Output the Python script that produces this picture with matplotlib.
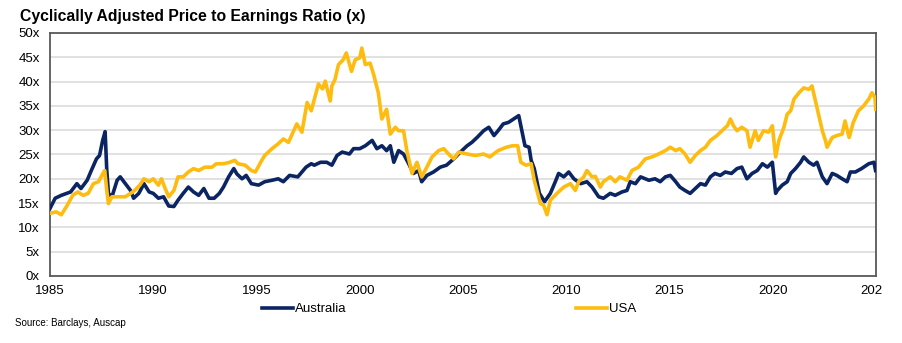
import matplotlib.pyplot as plt

plt.rcParams['font.family'] = ['Liberation Sans', 'DejaVu Sans']

# Australia CAPE
aus_dates = [
    1985.0, 1985.25, 1985.55, 1986.0, 1986.3, 1986.5, 1986.8, 1987.0, 1987.25, 1987.4,
    1987.55, 1987.67, 1987.75, 1987.83, 1988.0, 1988.25, 1988.4, 1988.65, 1988.9, 1989.05,
    1989.3, 1989.55, 1989.8,
    1990.0, 1990.25, 1990.5, 1990.75, 1991.0, 1991.2, 1991.45, 1991.7, 1991.95, 1992.2,
    1992.45, 1992.7, 1992.95, 1993.2, 1993.4, 1993.65, 1993.9, 1994.05, 1994.3, 1994.5,
    1994.75,
    1995.1, 1995.4, 1995.75, 1996.05, 1996.3, 1996.6, 1997.0, 1997.4, 1997.65, 1997.8,
    1998.1, 1998.4, 1998.65, 1998.9, 1999.15, 1999.5, 1999.7,
    2000.0, 2000.27, 2000.6, 2000.83, 2001.07, 2001.3, 2001.48, 2001.65, 2001.88, 2002.12,
    2002.37, 2002.6, 2002.85, 2003.0, 2003.25, 2003.57, 2003.9, 2004.2, 2004.55, 2004.87,
    2005.2, 2005.43, 2005.68, 2006.0, 2006.25, 2006.5, 2006.7, 2006.95, 2007.2, 2007.45,
    2007.7, 2007.85, 2008.0, 2008.2, 2008.3, 2008.45, 2008.7, 2008.95, 2009.23, 2009.47,
    2009.63, 2009.88,
    2010.12, 2010.37, 2010.7, 2011.0, 2011.25, 2011.57, 2011.8, 2012.13, 2012.37, 2012.7,
    2012.94, 2013.1, 2013.35, 2013.6, 2014.0, 2014.3, 2014.55, 2014.8,
    2015.04, 2015.3, 2015.5, 2015.75, 2016.0, 2016.25, 2016.5, 2016.74, 2016.98, 2017.2,
    2017.46, 2017.7, 2018.0, 2018.27, 2018.5, 2018.75, 2019.0, 2019.25, 2019.5, 2019.74,
    2019.98,
    2020.14, 2020.22, 2020.46, 2020.7, 2020.87, 2021.1, 2021.35, 2021.5, 2021.75, 2021.98,
    2022.14, 2022.4, 2022.63, 2022.88, 2023.1, 2023.36, 2023.6, 2023.76, 2024.0, 2024.3,
    2024.65, 2024.9, 2024.98,
]
aus_vals = [
    13.9, 16.0, 16.6, 17.3, 19.0, 18.0, 19.7, 21.7, 24.1, 24.8,
    27.9, 29.7, 21.7, 17.0, 16.3, 19.7, 20.4, 19.0, 17.6, 16.0,
    17.0, 19.0, 17.3,
    17.0, 16.0, 16.3, 14.4, 14.3, 15.6, 17.0, 18.3, 17.3, 16.6,
    18.0, 16.0, 16.0, 17.0, 18.3, 20.4, 22.1, 21.0, 20.0, 20.7,
    19.0,
    18.7, 19.4, 19.7, 20.0, 19.4, 20.7, 20.4, 22.4, 23.1, 22.8,
    23.4, 23.4, 22.8, 24.8, 25.5, 25.1, 26.2,
    26.2, 26.8, 27.9, 26.2, 26.8, 25.8, 26.8, 23.4, 25.8, 25.1,
    23.1, 21.1, 21.7, 19.4, 20.7, 21.4, 22.4, 22.8, 24.1, 25.5,
    26.8, 27.5, 28.5, 29.9, 30.6, 28.9, 29.9, 31.3, 31.6, 32.3,
    33.0, 29.9, 26.8, 26.5, 23.8, 22.1, 17.0, 15.3, 17.0, 19.4,
    21.1, 20.4,
    21.4, 20.0, 19.0, 19.4, 18.3, 16.3, 16.0, 17.0, 16.6, 17.3,
    17.6, 19.4, 19.0, 20.4, 19.7, 20.0, 19.4, 20.4,
    20.7, 19.4, 18.3, 17.6, 17.0, 18.0, 19.0, 18.7, 20.4, 21.1,
    20.7, 21.4, 21.1, 22.1, 22.4, 20.0, 21.1, 21.7, 23.1, 22.4,
    23.4,
    17.0, 17.6, 18.7, 19.4, 21.1, 22.1, 23.4, 24.5, 23.4, 22.8,
    23.4, 20.4, 19.0, 21.1, 20.7, 20.0, 19.4, 21.4, 21.4, 22.1,
    23.1, 23.4, 21.7,
]

# USA CAPE
usa_dates = [
    1985.0, 1985.3, 1985.55, 1985.8, 1986.1, 1986.35, 1986.6, 1986.85, 1987.1, 1987.35,
    1987.55, 1987.65, 1987.75, 1987.83, 1988.0, 1988.3, 1988.65, 1988.9, 1989.1, 1989.35,
    1989.55, 1989.8,
    1990.0, 1990.25, 1990.4, 1990.55, 1990.75, 1991.0, 1991.2, 1991.45, 1991.7, 1991.95,
    1992.2, 1992.5, 1992.85, 1993.05, 1993.4, 1993.7, 1993.95, 1994.1, 1994.45, 1994.75,
    1994.95,
    1995.2, 1995.4, 1995.75, 1996.05, 1996.3, 1996.55, 1996.8, 1996.95, 1997.2, 1997.45,
    1997.65, 1998.0, 1998.2, 1998.33, 1998.57, 1998.65, 1998.8, 1998.97, 1999.2, 1999.35,
    1999.6, 1999.78,
    2000.0, 2000.1, 2000.27, 2000.5, 2000.67, 2000.9, 2001.07, 2001.3, 2001.48, 2001.72,
    2001.88, 2002.12, 2002.28, 2002.53, 2002.77, 2003.0, 2003.25, 2003.5, 2003.82, 2004.07,
    2004.3, 2004.55, 2004.79,
    2005.2, 2005.6, 2006.0, 2006.3, 2006.7, 2007.1, 2007.4, 2007.65, 2007.8, 2008.05,
    2008.3, 2008.45, 2008.75, 2008.9, 2009.07, 2009.23, 2009.55, 2009.88,
    2010.2, 2010.44, 2010.6, 2010.85, 2011.0, 2011.25, 2011.41, 2011.65, 2011.8, 2012.13,
    2012.37, 2012.6, 2012.94, 2013.18, 2013.5, 2013.83, 2014.15, 2014.47, 2014.8,
    2015.04, 2015.3, 2015.5, 2015.75, 2016.0, 2016.25, 2016.5, 2016.74, 2016.98, 2017.3,
    2017.54, 2017.8, 2017.95, 2018.1, 2018.27, 2018.5, 2018.75, 2018.9, 2019.15, 2019.3,
    2019.55, 2019.8, 2019.98,
    2020.14, 2020.3, 2020.54, 2020.7, 2020.87, 2021.03, 2021.27, 2021.5, 2021.75, 2021.9,
    2022.07, 2022.23, 2022.4, 2022.55, 2022.63, 2022.88, 2023.1, 2023.36, 2023.5, 2023.7,
    2023.9, 2024.15, 2024.4, 2024.65, 2024.8, 2024.95, 2024.99,
]
usa_vals = [
    12.9, 13.2, 12.6, 14.3, 16.6, 17.3, 16.6, 17.0, 19.0, 19.4,
    21.0, 21.7, 17.6, 14.9, 16.3, 16.3, 16.3, 17.0, 17.6, 18.7,
    20.0, 19.4,
    20.0, 18.7, 20.0, 18.3, 16.3, 17.6, 20.4, 20.4, 21.4, 22.1,
    21.7, 22.4, 22.4, 23.1, 23.1, 23.4, 23.8, 23.1, 22.8, 21.7,
    21.4,
    23.4, 24.8, 26.2, 27.2, 28.2, 27.5, 29.9, 31.3, 29.6, 35.7,
    34.0, 39.5, 38.5, 40.1, 36.0, 39.1, 40.4, 43.5, 44.5, 45.9,
    42.1, 44.5,
    44.9, 46.9, 43.5, 43.8, 41.5, 37.7, 32.3, 34.3, 29.2, 30.6,
    29.9, 29.9, 25.8, 21.1, 23.4, 20.4, 22.4, 24.5, 25.8, 26.2,
    25.1, 24.1, 25.5,
    25.1, 24.8, 25.1, 24.5, 25.8, 26.5, 26.8, 26.8, 23.4, 22.8,
    23.1, 19.7, 14.9, 14.6, 12.6, 15.6, 17.0, 18.3,
    19.0, 17.6, 19.4, 20.4, 21.7, 20.4, 20.5, 18.3, 19.4, 20.4,
    19.4, 20.4, 19.7, 21.7, 22.4, 24.1, 24.5, 25.1, 25.8,
    26.5, 25.8, 26.2, 25.1, 23.4, 24.8, 25.8, 26.5, 27.9, 28.9,
    29.9, 30.9, 32.3, 30.9, 29.9, 30.6, 29.9, 26.5, 29.9, 27.9,
    29.9, 29.6, 30.9,
    24.5, 27.9, 30.6, 33.3, 34.0, 36.4, 37.7, 38.7, 38.4, 39.1,
    36.0, 33.0, 29.9, 27.9, 26.5, 28.5, 28.9, 29.2, 31.9, 28.5,
    31.6, 34.0, 35.0, 36.4, 37.7, 36.7, 34.3,
]

x_ticks = [1985, 1990, 1995, 2000, 2005, 2010, 2015, 2020, 2024.78]
x_labels = ['1985', '1990', '1995', '2000', '2005', '2010', '2015', '2020', '202']
y_ticks = list(range(0, 51, 5))

fig = plt.figure(figsize=(9.03, 3.43), dpi=100)
ax = fig.add_axes([50 / 903, 67 / 343, 826 / 903, 243 / 343])

aus_line, = ax.plot(aus_dates, aus_vals, color='#0B2462', lw=2.6, label='Australia',
                    solid_joinstyle='round', zorder=3)
usa_line, = ax.plot(usa_dates, usa_vals, color='#FDBC0F', lw=2.6, label='USA',
                    solid_joinstyle='round', zorder=4)

ax.set_xlim(1985, 2025)
ax.set_ylim(0, 50)
ax.set_xticks(x_ticks)
ax.set_xticklabels(x_labels)
ax.set_yticks(y_ticks)
ax.set_yticklabels([f'{v}x' for v in y_ticks])
ax.grid(axis='y', color='#D9D9D9', lw=1.1)
ax.set_axisbelow(True)
for s in ax.spines.values():
    s.set_color('#595959')
    s.set_linewidth(1.3)
ax.tick_params(axis='x', length=0, labelsize=9.5, pad=6.5)
ax.tick_params(axis='y', length=0, labelsize=9.5, pad=7.5)

fig.legend(handles=[aus_line, usa_line], loc='center left',
           bbox_to_anchor=(262 / 903, 1 - 309 / 343), ncol=2, frameon=False,
           fontsize=9.5, handlelength=2.35, handletextpad=0.15, columnspacing=17.4,
           borderpad=0, borderaxespad=0)

fig.text(20 / 903, 1 - 21 / 343, 'Cyclically Adjusted Price to Earnings Ratio (x)',
         fontsize=11.3, fontweight='bold', va='baseline')
fig.text(15 / 903, 1 - 323 / 343, 'Source: Barclays, Auscap', fontsize=7, va='center')

fig.savefig('out.png', dpi=100)
